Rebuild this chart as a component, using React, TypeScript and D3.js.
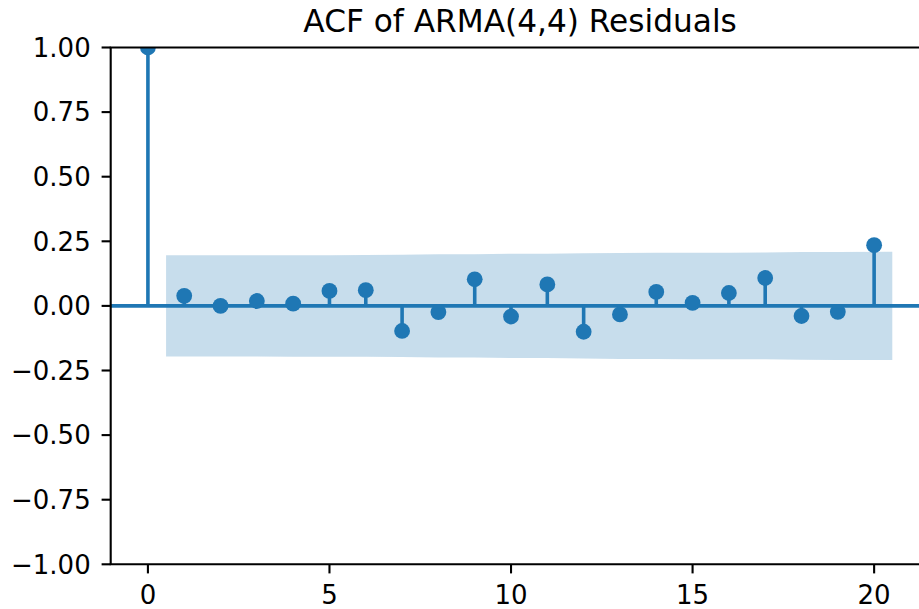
import React from 'react';
import * as d3 from 'd3';

// ACF values by lag (lag 0 .. 20)
const lags = d3.range(0, 21);
const acfValues = [
  1.0, 0.039, 0.0, 0.019, 0.009, 0.058, 0.061, -0.097, -0.024, 0.103, -0.041,
  0.083, -0.1, -0.033, 0.054, 0.012, 0.05, 0.108, -0.039, -0.023, 0.235,
];
// half-width of the 95% confidence band for lags 1 .. 20
const confWidth = [
  0.196, 0.1963, 0.1963, 0.1964, 0.1964, 0.1971, 0.1978, 0.1996, 0.1997, 0.2017,
  0.2021, 0.2034, 0.2052, 0.2054, 0.206, 0.206, 0.2065, 0.2087, 0.209, 0.2091,
];
const xTicks = [0, 5, 10, 15, 20];
const yTicks = [-1, -0.75, -0.5, -0.25, 0, 0.25, 0.5, 0.75, 1];
const title = 'ACF of ARMA(4,4) Residuals';

const W = 919;
const H = 609;
const left = 110.7;
const right = 929.5;
const top = 47.5;
const bottom = 564.3;
const blue = '#1f77b4';
const font = 'DejaVu Sans, sans-serif';

const fmt = (v: number) => {
  const s = Math.abs(v).toFixed(2);
  return v < 0 ? '\u2212' + s : s;
};

export default function App() {
  const x = d3.scaleLinear().domain([-1.025, 21.525]).range([left, right]);
  const y = d3.scaleLinear().domain([-1, 1]).range([bottom, top]);

  const bandData = confWidth.map((w, i) => {
    let lag = i + 1;
    if (i === 0) lag -= 0.5;
    if (i === confWidth.length - 1) lag += 0.5;
    return { lag, w };
  });
  const band = d3
    .area<{ lag: number; w: number }>()
    .x((d) => x(d.lag))
    .y0((d) => y(-d.w))
    .y1((d) => y(d.w));

  return (
    <svg
      width={W}
      height={H}
      style={{ position: 'absolute', left: 0, top: 0, background: '#fff' }}
    >
      <defs>
        <clipPath id="plot">
          <rect x={left} y={top} width={right - left} height={bottom - top} />
        </clipPath>
      </defs>

      <g clipPath="url(#plot)">
        <path d={band(bandData) || ''} fill={blue} fillOpacity={0.25} />
        {lags.map((l, i) => (
          <line
            key={'s' + l}
            x1={x(l)}
            x2={x(l)}
            y1={y(0)}
            y2={y(acfValues[i])}
            stroke={blue}
            strokeWidth={3.6}
          />
        ))}
        <line x1={left} x2={right} y1={y(0)} y2={y(0)} stroke={blue} strokeWidth={3.6} />
        {lags.map((l, i) => (
          <circle key={'c' + l} cx={x(l)} cy={y(acfValues[i])} r={7.9} fill={blue} />
        ))}
      </g>

      {/* spines */}
      <g stroke="#000" strokeWidth={2.1} fill="none">
        <line x1={left} x2={left} y1={top} y2={bottom} />
        <line x1={left - 1} x2={right} y1={bottom} y2={bottom} />
        <line x1={left - 1} x2={right} y1={top} y2={top} />
      </g>

      {/* y axis */}
      {yTicks.map((t) => (
        <g key={'y' + t}>
          <line x1={left - 9.1} x2={left} y1={y(t)} y2={y(t)} stroke="#000" strokeWidth={2.1} />
          <text
            x={left - 20}
            y={y(t)}
            dy="0.36em"
            textAnchor="end"
            fontFamily={font}
            fontSize={26}
            fill="#000"
          >
            {fmt(t)}
          </text>
        </g>
      ))}

      {/* x axis */}
      {xTicks.map((t) => (
        <g key={'x' + t}>
          <line x1={x(t)} x2={x(t)} y1={bottom} y2={bottom + 9.1} stroke="#000" strokeWidth={2.1} />
          <text
            x={x(t)}
            y={603.5}
            textAnchor="middle"
            fontFamily={font}
            fontSize={26}
            fill="#000"
          >
            {t}
          </text>
        </g>
      ))}

      <text
        x={(left + right) / 2}
        y={32}
        textAnchor="middle"
        fontFamily={font}
        fontSize={31.2}
        fill="#000"
      >
        {title}
      </text>
    </svg>
  );
}
